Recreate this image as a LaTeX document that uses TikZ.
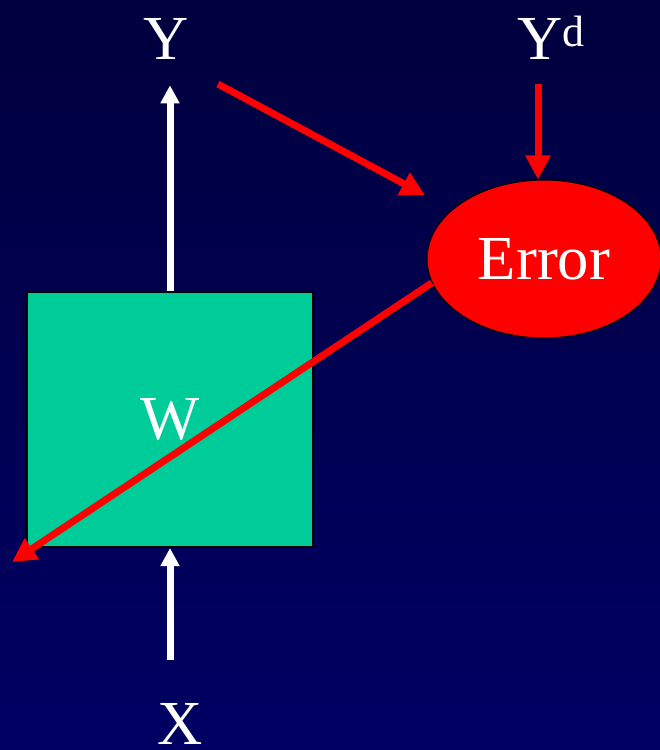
\documentclass[tikz,border=0pt]{standalone}
\usepackage{fontspec}
\setmainfont{Liberation Serif}
\usetikzlibrary{arrows.meta,shapes.geometric}
\definecolor{slidetop}{RGB}{0,0,62}
\definecolor{slidebot}{RGB}{0,0,100}
\definecolor{boxgreen}{RGB}{0,204,153}
\begin{document}
\begin{tikzpicture}[x=0.75pt,y=-0.75pt,
        big/.style={text=white,font=\fontsize{47}{50}\selectfont,inner sep=0pt},
        lbl/.style={big,anchor=base},
        wire/.style={white,line width=5.25pt,-{Triangle[length=13.5pt,width=13.5pt]}},
        errwire/.style={red,line width=5.25pt,-{Triangle[length=18pt,width=18pt]}}]
        % Фон слайда
        \useasboundingbox (0,0) rectangle (660,750);
        \shade[top color=slidetop,bottom color=slidebot] (0,0) rectangle (660,750);

        % Блок весов W
        \node[big,draw=black,line width=1.5pt,fill=boxgreen,minimum width=214.5pt,minimum height=191.25pt] (W) at (170,419.5) {W};
        % Эллипс ошибки
        \node[big,ellipse,draw=black,line width=0.8pt,fill=red,minimum width=175.5pt,minimum height=118.5pt] (err) at (544,259) {Error};

        % Подписи
        \node[lbl] (Y) at (166,59) {Y};
        \node[lbl,anchor=base west] (Yd) at (517,59) {Y\textsuperscript{d}};
        \node[lbl] (X) at (180,744) {X};

        % Свободные концы стрелок
        \coordinate (xout) at (170,660);
        \coordinate (yout) at (218,84);
        \coordinate (ydout) at (538,84);
        \coordinate (wtip) at (12,562);

        % Белые стрелки: X -> W -> Y
        \draw[wire] (xout) -- (W.south);
        \draw[wire,shorten >=19.5pt] (W.north) -- (W.north |- Y.south);

        % Красные стрелки к ошибке и обратно
        \draw[errwire] (ydout) -- (ydout |- err.north);
        \draw[errwire,shorten >=23pt] (yout) -- (err);
        \draw[errwire] (err.192) -- (wtip);
\end{tikzpicture}
\end{document}
